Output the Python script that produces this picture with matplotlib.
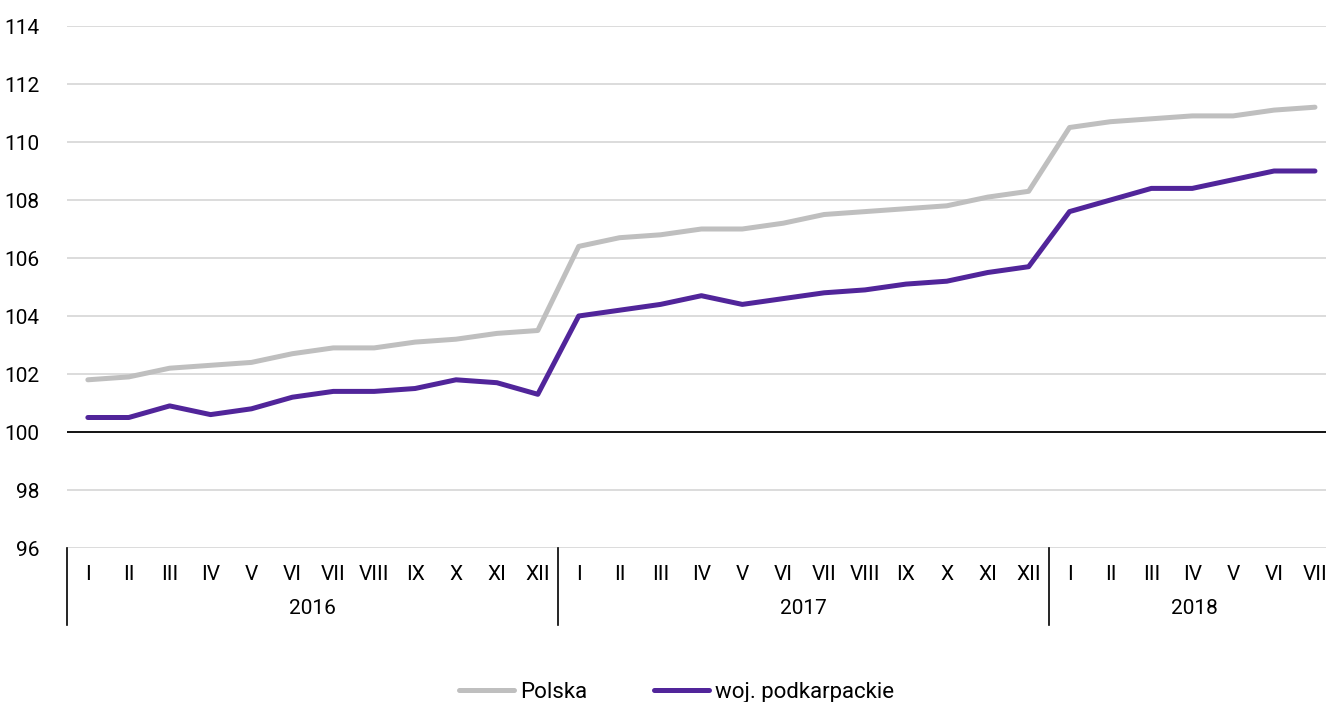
import matplotlib
matplotlib.use("Agg")
import matplotlib.pyplot as plt
import matplotlib.transforms as mtransforms

plt.rcParams["font.family"] = ["Roboto", "DejaVu Sans"]

months = ["I", "II", "III", "IV", "V", "VI", "VII", "VIII", "IX", "X", "XI", "XII"]
years = ["2016", "2017", "2018"]
months_per_year = [12, 12, 7]

polska = [101.8, 101.9, 102.2, 102.3, 102.4, 102.7, 102.9, 102.9, 103.1, 103.2, 103.4, 103.5,
          106.4, 106.7, 106.8, 107.0, 107.0, 107.2, 107.5, 107.6, 107.7, 107.8, 108.1, 108.3,
          110.5, 110.7, 110.8, 110.9, 110.9, 111.1, 111.2]
podkarpackie = [100.5, 100.5, 100.9, 100.6, 100.8, 101.2, 101.4, 101.4, 101.5, 101.8, 101.7, 101.3,
                104.0, 104.2, 104.4, 104.7, 104.4, 104.6, 104.8, 104.9, 105.1, 105.2, 105.5, 105.7,
                107.6, 108.0, 108.4, 108.4, 108.7, 109.0, 109.0]

tick_labels = []
for n in months_per_year:
    tick_labels += months[:n]
x = list(range(len(tick_labels)))

fig = plt.figure(figsize=(13.26, 7.02), dpi=100)
ax = fig.add_axes([67 / 1326, 1 - 548 / 702, 1 - 67 / 1326, (548 - 26) / 702])

ax.set_ylim(96, 114)
ax.set_xlim(-0.51, 30.27)
ax.set_yticks(range(96, 115, 2))
for v in range(96, 115, 2):
    if v == 100:
        ax.axhline(v, color="black", lw=1.3, zorder=1)
    else:
        ax.axhline(v, color="#d9d9d9", lw=1.3, zorder=0)

ax.plot(x, polska, color="#bfbfbf", lw=3.6, solid_capstyle="round", label="Polska", zorder=3)
ax.plot(x, podkarpackie, color="#51259a", lw=3.6, solid_capstyle="round",
        label="woj. podkarpackie", zorder=4)

for s in ax.spines.values():
    s.set_visible(False)

ax.set_xticks(x)
ax.set_xticklabels(tick_labels, fontsize=15)
ax.tick_params(axis="x", length=0, pad=12)
ax.tick_params(axis="y", length=0, labelsize=15, pad=20)

trans = mtransforms.blended_transform_factory(ax.transData, ax.transAxes)
bounds = [-0.51]
pos = 0
for n in months_per_year:
    pos += n
    bounds.append(pos - 0.5)
for b in bounds[:-1]:
    ax.plot([b, b], [0, -77 / 522], color="black", lw=1.2, transform=trans, clip_on=False)
start = -0.5
for yr, n in zip(years, months_per_year):
    mid = start + n / 2
    if yr == "2018":
        mid = start + 3.55
    ax.text(mid, -60 / 522, yr, transform=trans, ha="center", va="center", fontsize=15)
    start += n

fig.legend(loc="lower center", bbox_to_anchor=(0.51, -0.03), ncol=2, frameon=False,
           fontsize=16, handlelength=2.5, columnspacing=3.0, handletextpad=0.25)

fig.savefig("out.png", dpi=100)
